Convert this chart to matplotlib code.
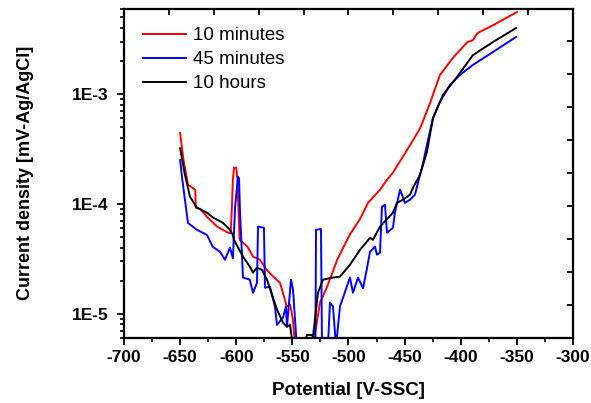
import numpy as np
import matplotlib
matplotlib.use("Agg")
import matplotlib.pyplot as plt

plt.rcParams['font.family'] = ['Liberation Sans', 'DejaVu Sans']

# 10 minutes (red)
pot_10min = [-650, -647, -643, -641, -636.5, -636, -632, -626, -617, -608, -605, -604, -603, -602, -600,
             -599, -598, -597, -590, -585, -579, -573, -567, -561, -558, -555, -552, -549.5, -547.5,
             -531.6, -525.4, -519, -510, -499, -490, -482.6, -472, -465.7, -460, -445, -436, -427,
             -418.5, -407, -394, -389, -385, -371, -350]
cur_10min = [4.4e-4, 2.5e-4, 1.49e-4, 1.45e-4, 1.34e-4, 9.2e-5, 9.0e-5, 7.6e-5, 6.2e-5, 5.5e-5, 5.4e-5, 8.5e-5,
             1.65e-4, 2.13e-4, 2.13e-4, 1.7e-4, 9e-5, 4.7e-5, 4.07e-5, 3.3e-5, 3.1e-5, 2.51e-5, 2.17e-5,
             1.91e-5, 1.5e-5, 1.16e-5, 1.21e-5, 8.8e-6, 5e-6,
             5e-6, 1.26e-5, 1.76e-5, 3.1e-5, 5.2e-5, 7.2e-5, 1.02e-4, 1.34e-4, 1.65e-4, 1.95e-4, 3.44e-4,
             4.91e-4, 8.46e-4, 1.49e-3, 2.13e-3, 2.97e-3, 3.10e-3, 3.59e-3, 4.24e-3, 5.56e-3]

# 45 minutes (blue)
pot_45min = [-650, -648, -643, -635, -626, -621, -614.5, -610, -605.6, -603, -601, -598.4, -597.5, -596.7,
             -594, -588, -585, -581.5, -580.6, -575.3, -574.4, -570, -565.5, -563.7, -558.4, -555.7,
             -554.8, -551.2, -549.4, -546, -530, -529.5, -528.9, -524.5, -523.6, -518.3, -516.5, -513.8,
             -511.1, -507.6, -498.7, -496, -491.5, -487, -483.5, -480.8, -476.4, -474.6, -471.9, -470.2,
             -467.5, -465.7, -460.4, -458.6, -454.1, -452.3, -449.7, -445.2, -440.8, -438.1, -434.5,
             -430.1, -424.7, -418.5, -409.6, -400.7, -389.1, -371.3, -350.8]
cur_45min = [2.5e-4, 1.65e-4, 6.7e-5, 5.8e-5, 5.2e-5, 4.07e-5, 3.66e-5, 3.1e-5, 3.98e-5, 3.2e-5, 9.4e-5,
             1.76e-4, 1.7e-4, 8.8e-5, 2.13e-5, 2.04e-5, 1.55e-5, 1.91e-5, 6.2e-5, 6.05e-5, 1.72e-5,
             1.76e-5, 1.16e-5, 7.9e-6, 9.2e-6, 1.16e-5, 7.6e-6, 2.04e-5, 1.65e-5, 5e-6, 5e-6, 5e-6,
             5.8e-5, 5.9e-5, 5e-6, 5e-6, 1.26e-5, 1.16e-5, 5e-6, 1.16e-5, 2.13e-5, 1.55e-5, 2.13e-5,
             1.7e-5, 2.6e-5, 3.66e-5, 4.07e-5, 3.44e-5, 3.59e-5, 9.4e-5, 9.8e-5, 5.45e-5, 6.05e-5,
             8.3e-5, 1.34e-4, 1.21e-4, 1.02e-4, 1.09e-4, 1.21e-4, 1.55e-4, 2.13e-4, 3.44e-4, 6.05e-4,
             8.46e-4, 1.21e-3, 1.49e-3, 1.84e-3, 2.41e-3, 3.30e-3]

# 10 hours (black)
pot_10h = [-650, -645.7, -641.2, -635, -626, -620.7, -611.8, -605.6, -603, -602, -594, -587.8, -585.1,
           -581.5, -577.1, -572.6, -568.2, -563.7, -558.4, -554.8, -552.1, -549.4, -540, -537, -533,
           -531.6, -527.2, -522.7, -513.8, -507.6, -498.7, -489.8, -480.8, -478.2, -471.9, -460.4,
           -456.8, -451.4, -445.2, -442.5, -436.3, -430.1, -424.7, -415.8, -403.3, -389.1, -371.3, -350.8]
cur_10h = [3.2e-4, 1.84e-4, 1.16e-4, 9.2e-5, 8.3e-5, 7.5e-5, 6.7e-5, 5.8e-5, 5.2e-5, 4.7e-5, 3.3e-5,
           2.67e-5, 2.36e-5, 2.62e-5, 2.51e-5, 2.04e-5, 1.49e-5, 1.09e-5, 8.3e-6, 7.6e-6, 7.9e-6, 5e-6,
           5e-6, 6.4e-6, 6.4e-6, 6.2e-6, 1.55e-5, 2.04e-5, 2.13e-5, 2.17e-5, 2.79e-5, 3.8e-5, 4.9e-5,
           4.7e-5, 6.2e-5, 8.3e-5, 1.02e-4, 1.09e-4, 1.21e-4, 1.4e-4, 1.84e-4, 2.97e-4, 6.05e-4,
           9.8e-4, 1.43e-3, 2.26e-3, 2.97e-3, 3.98e-3]

series_labels = ["10 minutes", "45 minutes", "10 hours"]
x_ticks = [-700, -650, -600, -550, -500, -450, -400, -350, -300]
y_ticks = [1e-5, 1e-4, 1e-3]
y_ticklabels = ["1E-5", "1E-4", "1E-3"]

fig = plt.figure(figsize=(5.91, 4.03), dpi=100)
ax = fig.add_axes([0.2098, 0.1613, 0.7597, 0.8176])

ax.plot(pot_10min, cur_10min, color="#ff0000", lw=1.4, label=series_labels[0])
ax.plot(pot_45min, cur_45min, color="#0000ff", lw=1.4, label=series_labels[1])
ax.plot(pot_10h, cur_10h, color="#000000", lw=1.4, label=series_labels[2])

ax.set_yscale("log")
ax.set_xlim(-700, -300)
ax.set_ylim(6e-6, 6e-3)
ax.set_xticks(x_ticks)
ax.set_xticklabels([str(v) for v in x_ticks])
ax.set_xticks(np.arange(-675, -300, 50), minor=True)
ax.set_yticks(y_ticks)
ax.set_yticklabels(y_ticklabels)
ax.yaxis.set_minor_locator(matplotlib.ticker.LogLocator(base=10, subs=np.arange(2, 10)))
ax.yaxis.set_minor_formatter(matplotlib.ticker.NullFormatter())

ax.tick_params(axis="both", which="major", direction="out", length=5, width=1.3,
               labelsize=12.5, top=False, right=False)
ax.tick_params(axis="x", which="major", pad=4)
ax.tick_params(axis="y", which="major", pad=6)
ax.tick_params(axis="both", which="minor", direction="out", length=3, width=1.2,
               top=False, right=False)
for lab in ax.get_xticklabels() + ax.get_yticklabels():
    lab.set_fontweight("bold")

for s in ax.spines.values():
    s.set_linewidth(1.5)

# opposite axes with evenly spaced inward ticks
axt = ax.twiny()
axt.set_xlim(0, 1)
axt.set_xticks(np.linspace(0.1, 0.9, 9))
axt.tick_params(axis="x", direction="in", length=4, width=1.3, labeltop=False)
axr = ax.twinx()
axr.set_ylim(0, 1)
axr.set_yticks(np.linspace(0.1, 0.9, 9))
axr.tick_params(axis="y", direction="in", length=4, width=1.3, labelright=False)
for a in (axt, axr):
    for s in a.spines.values():
        s.set_linewidth(1.5)

ax.set_xlabel("Potential [V-SSC]", fontsize=13.5, fontweight="bold", labelpad=12)
ax.set_ylabel("Current density [mV-Ag/AgCl]", fontsize=13, fontweight="bold", labelpad=27)

ax.legend(loc="upper left", frameon=False, fontsize=13.5, handlelength=2.3,
          handletextpad=0.37, labelspacing=0.36, borderaxespad=0.6,
          bbox_to_anchor=(0.0, 1.0))

fig.savefig("out.png", dpi=100)
